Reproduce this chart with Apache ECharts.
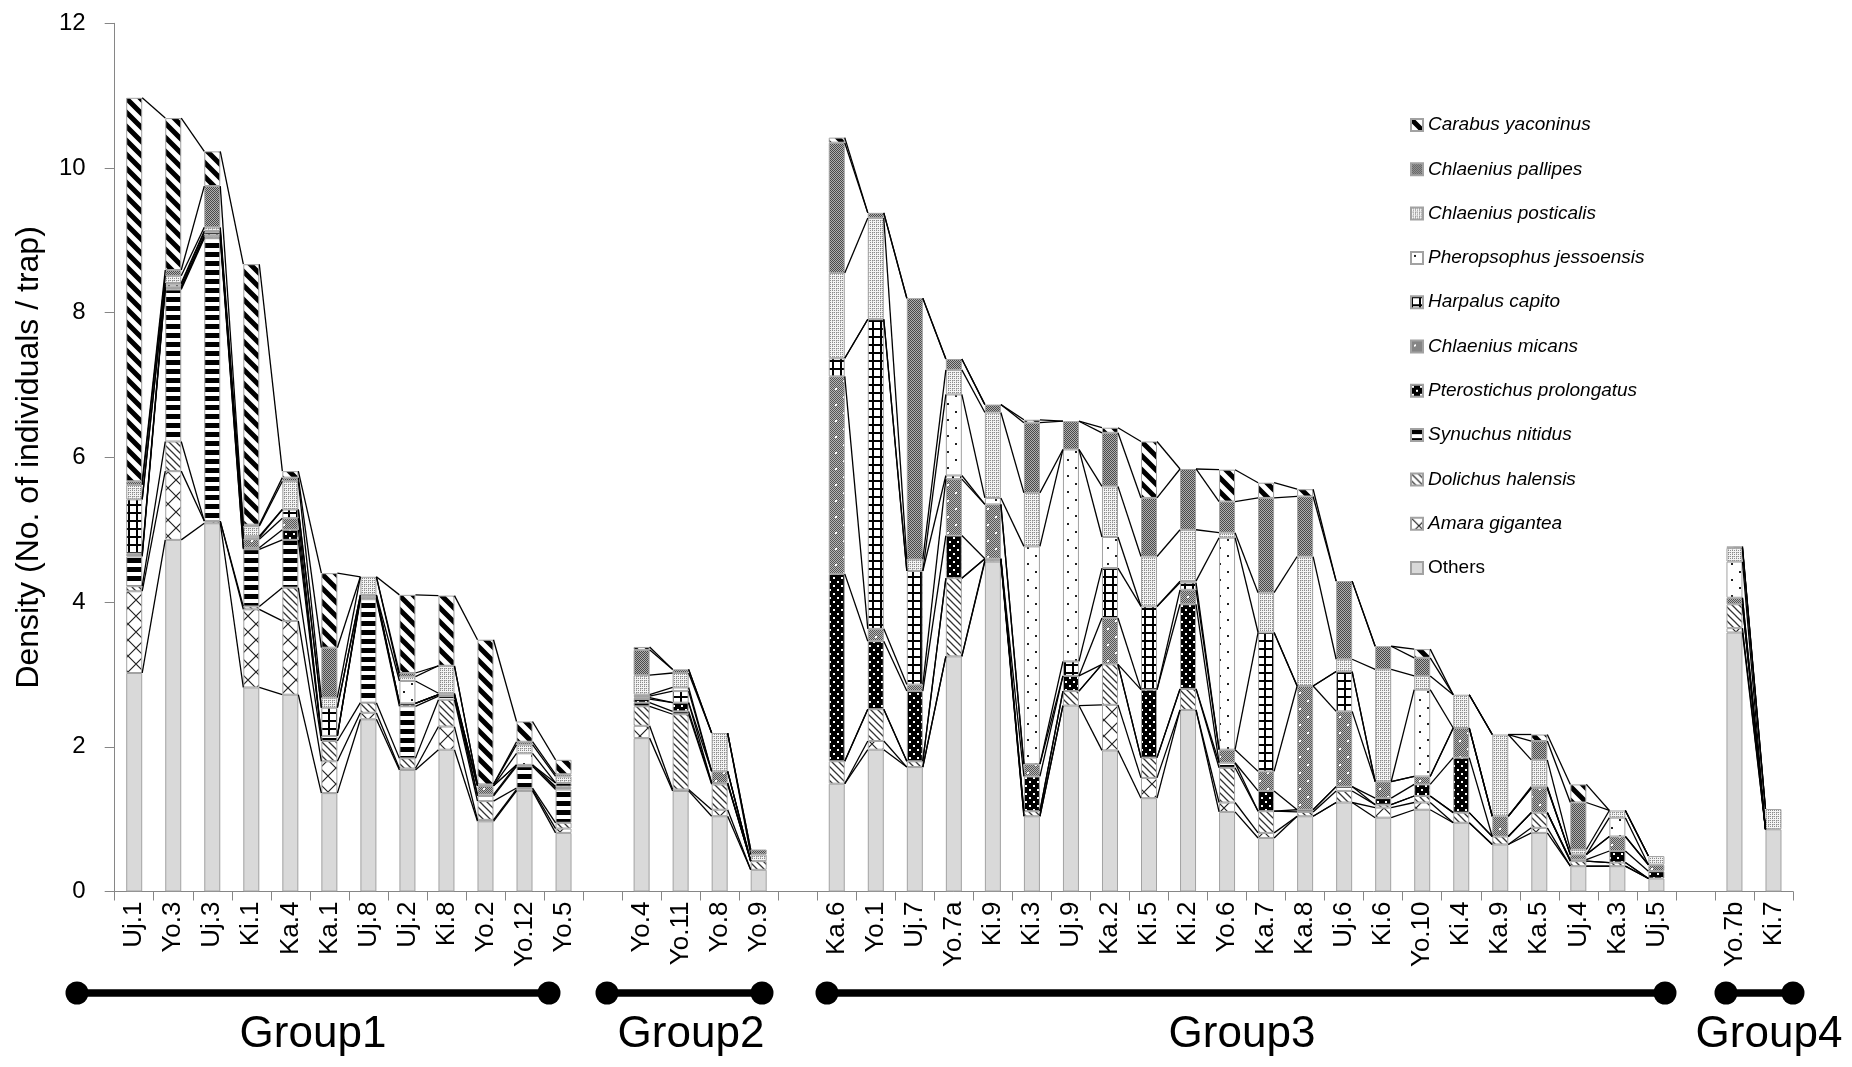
<!DOCTYPE html>
<html><head><meta charset="utf-8">
<script src="https://cdn.jsdelivr.net/npm/echarts@6/dist/echarts.min.js"></script>
<style>html,body{margin:0;padding:0;background:#fff}#c{width:1852px;height:1067px}</style>
</head><body><div id="c"></div>
<script>
// ---------- DATA ----------
const categories = ['Uj.1','Yo.3','Uj.3','Ki.1','Ka.4','Ka.1','Uj.8','Uj.2','Ki.8','Yo.2','Yo.12','Yo.5','',
  'Yo.4','Yo.11','Yo.8','Yo.9','',
  'Ka.6','Yo.1','Uj.7','Yo.7a','Ki.9','Ki.3','Uj.9','Ka.2','Ki.5','Ki.2','Yo.6','Ka.7','Ka.8','Uj.6','Ki.6','Yo.10','Ki.4','Ka.9','Ka.5','Uj.4','Ka.3','Uj.5','',
  'Yo.7b','Ki.7'];

const others = [3.02,4.86,5.09,2.82,2.72,1.36,2.38,1.68,1.96,0.97,1.39,0.81,null,
  2.12,1.39,1.04,0.30,null,
  1.49,1.96,1.72,3.25,4.56,1.04,2.57,1.95,1.29,2.51,1.10,0.74,1.04,1.23,1.02,1.13,0.95,0.65,0.81,0.35,0.35,0.18,null,
  3.58,0.86];
const amaraGigantea = [1.13,0.95,0.03,1.08,1.02,0.44,0.09,0.02,0.32,0.02,0.02,0.06,null,
  0.17,0.02,0.09,0,null,
  0,0.12,0,0,0.02,0,0,0.63,0.28,0,0.13,0.07,0,0,0.14,0.10,0,0,0.07,0,0,0,null,
  0.06,0];
const dolichusHalensis = [0.07,0.41,0,0.04,0.46,0.28,0.14,0.14,0.37,0.26,0.02,0.08,null,
  0.27,1.04,0.35,0.12,null,
  0.31,0.44,0.08,1.08,0.02,0.07,0.20,0.56,0.28,0.29,0.48,0.30,0.06,0.16,0.04,0.09,0.14,0.11,0.21,0.07,0.05,0,null,
  0.33,0];
const synuchusNitidus = [0.41,2.10,3.91,0.79,0.66,0.07,1.43,0.72,0.05,0.07,0.30,0.46,null,
  0.05,0.04,0.02,0,null,
  0,0,0,0,0,0,0,0,0,0,0.07,0,0.03,0.06,0,0,0,0,0,0,0,0,null,
  0,0];
const pterostichusProlongatus = [0.02,0.02,0.02,0.02,0.14,0,0.02,0.04,0.02,0.02,0.02,0.02,null,
  0.05,0.12,0,0,null,
  2.59,0.94,0.97,0.59,0,0.48,0.21,0,0.94,1.17,0,0.28,0,0,0.09,0.16,0.76,0,0,0.02,0.16,0.10,null,
  0,0];
const chlaeniusMicans = [0.02,0.02,0.02,0.12,0.16,0,0.02,0,0,0.12,0,0.02,null,
  0.02,0,0.16,0,null,
  2.73,0.17,0.09,0.78,0.75,0.17,0,0.64,0,0.20,0.18,0.27,1.71,1.04,0.23,0.11,0.41,0.28,0.34,0.07,0.20,0.09,null,
  0.09,0];
const harpalusCapito = [0.75,0.03,0.04,0.02,0.12,0.39,0.02,0,0,0,0,0.05,null,
  0.02,0.16,0,0,null,
  0.25,4.28,1.57,0.05,0,0,0.20,0.69,1.15,0.10,0,1.92,0,0.55,0,0,0,0,0,0,0,0,null,
  0,0];
const pheropsophusJessoensis = [0,0.02,0.02,0.02,0,0,0,0.31,0.02,0,0.16,0,null,
  0.02,0.05,0,0,null,
  0,0,0,1.12,0.09,3.01,2.93,0.43,0,0.02,2.93,0,0,0,0,1.20,0,0,0.02,0,0.26,0,null,
  0.50,0];
const chlaeniusPosticalis = [0.20,0.10,0.05,0.14,0.39,0.14,0.25,0.06,0.38,0.02,0.12,0.09,null,
  0.27,0.20,0.53,0.09,null,
  1.18,1.40,0.16,0.34,1.18,0.74,0,0.70,0.69,0.71,0.07,0.55,1.79,0.17,1.55,0.19,0.46,1.13,0.37,0.07,0.10,0.12,null,
  0.19,0.28];
const chlaeniusPallipes = [0.05,0.08,0.57,0.02,0.05,0.69,0,0.05,0,0,0.04,0.03,null,
  0.35,0.05,0,0.07,null,
  1.80,0.07,3.61,0.15,0.11,0.97,0.39,0.74,0.81,0.84,0.43,1.31,0.83,1.08,0.32,0.25,0,0,0.26,0.65,0,0,null,
  0,0];
const carabusYaconinus = [5.30,2.10,0.48,3.60,0.09,1.03,0,1.08,0.97,2.00,0.28,0.20,null,
  0.04,0,0,0,null,
  0.07,0,0,0,0,0.04,0,0.07,0.78,0,0.44,0.21,0.10,0,0,0.12,0,0,0.09,0.25,0,0,null,
  0.02,0];

const yTicks = {min: 0, max: 12, interval: 2};
const groupLabels = ['Group1','Group2','Group3','Group4'];

// ---------- PATTERNS ----------
function tile(w, h, fn) {
  const c = document.createElement('canvas');
  c.width = w; c.height = h;
  const g = c.getContext('2d');
  fn(g, w, h);
  return {image: c, repeat: 'repeat'};
}
function checker(g, w, h, dark, light) {
  g.fillStyle = light; g.fillRect(0, 0, w, h);
  g.fillStyle = dark;
  for (let y = 0; y < h; y++) for (let x = 0; x < w; x++) if ((x + y) % 2 === 0) g.fillRect(x, y, 1, 1);
}
const fills = {
  others: '#d9d9d9',
  amara: tile(16, 16, (g) => {
    g.fillStyle = '#fff'; g.fillRect(0, 0, 16, 16);
    g.strokeStyle = '#222'; g.lineWidth = 1.2; g.beginPath();
    g.moveTo(-2, -2); g.lineTo(18, 18); g.moveTo(18, -2); g.lineTo(-2, 18); g.stroke();
  }),
  dolichus: tile(7, 7, (g) => {
    g.fillStyle = '#fff'; g.fillRect(0, 0, 7, 7);
    g.strokeStyle = '#333'; g.lineWidth = 1.3; g.beginPath();
    for (const k of [-7, 0, 7]) { g.moveTo(k - 1, -1); g.lineTo(k + 8, 8); }
    g.stroke();
  }),
  synuchus: tile(8, 9, (g) => {
    g.fillStyle = '#fff'; g.fillRect(0, 0, 8, 9);
    g.fillStyle = '#000'; g.fillRect(0, 0, 8, 5);
  }),
  ptero: tile(8, 8, (g) => {
    g.fillStyle = '#000'; g.fillRect(0, 0, 8, 8);
    g.fillStyle = '#fff'; g.fillRect(1, 1, 2, 2); g.fillRect(5, 5, 2, 2);
  }),
  micans: tile(16, 16, (g) => {
    checker(g, 16, 16, '#555', '#b5b5b5');
    g.fillStyle = '#fff'; g.fillRect(3, 4, 2, 2); g.fillRect(11, 12, 2, 2);
  }),
  harpalus: tile(8, 8, (g) => {
    g.fillStyle = '#fff'; g.fillRect(0, 0, 8, 8);
    g.fillStyle = '#000'; g.fillRect(0, 0, 8, 2); g.fillRect(0, 0, 2, 8);
  }),
  phero: tile(16, 16, (g) => {
    g.fillStyle = '#fff'; g.fillRect(0, 0, 16, 16);
    g.fillStyle = '#222'; g.fillRect(3, 3, 2, 2); g.fillRect(11, 11, 2, 2);
  }),
  posticalis: tile(4, 4, (g) => {
    g.fillStyle = '#f4f4f4'; g.fillRect(0, 0, 4, 4);
    g.fillStyle = '#8a8a8a';
    g.fillRect(0, 0, 1, 1); g.fillRect(2, 0, 1, 1); g.fillRect(0, 2, 1, 1); g.fillRect(2, 2, 1, 1);
    g.fillStyle = '#c4c4c4'; g.fillRect(1, 0, 1, 1); g.fillRect(0, 1, 1, 1);
  }),
  pallipes: tile(4, 4, (g) => checker(g, 4, 4, '#4a4a4a', '#b0b0b0')),
  carabus: tile(14, 14, (g) => {
    g.fillStyle = '#fff'; g.fillRect(0, 0, 14, 14);
    g.strokeStyle = '#000'; g.lineWidth = 5; g.beginPath();
    for (const k of [-14, 0, 14]) { g.moveTo(k - 3, -3); g.lineTo(k + 17, 17); }
    g.stroke();
  })
};

// bottom to top
const stackDef = [
  {name: 'Others', data: others, fill: fills.others},
  {name: 'Amara gigantea', data: amaraGigantea, fill: fills.amara},
  {name: 'Dolichus halensis', data: dolichusHalensis, fill: fills.dolichus},
  {name: 'Synuchus nitidus', data: synuchusNitidus, fill: fills.synuchus},
  {name: 'Pterostichus prolongatus', data: pterostichusProlongatus, fill: fills.ptero},
  {name: 'Chlaenius micans', data: chlaeniusMicans, fill: fills.micans},
  {name: 'Harpalus capito', data: harpalusCapito, fill: fills.harpalus},
  {name: 'Pheropsophus jessoensis', data: pheropsophusJessoensis, fill: fills.phero},
  {name: 'Chlaenius posticalis', data: chlaeniusPosticalis, fill: fills.posticalis},
  {name: 'Chlaenius pallipes', data: chlaeniusPallipes, fill: fills.pallipes},
  {name: 'Carabus yaconinus', data: carabusYaconinus, fill: fills.carabus}
];

const BAR_W = 16;
const N = categories.length;

// cumulative tops for series lines
const cum = stackDef.map(() => new Array(N).fill(null));
for (let i = 0; i < N; i++) {
  let s = 0;
  stackDef.forEach((d, k) => {
    if (d.data[i] == null) return;
    s += d.data[i];
    cum[k][i] = s;
  });
}
const pairs = [];
for (let i = 0; i < N - 1; i++) {
  if (categories[i] && categories[i + 1]) pairs.push([i, cum[cum.length - 1][i]]);
}

const FONT = 'Liberation Sans, Arial, sans-serif';

const barSeries = stackDef.map((d) => ({
  name: d.name,
  type: 'bar',
  stack: 'total',
  barWidth: BAR_W,
  data: d.data.map(v => (v === 0 ? null : v)),
  itemStyle: {color: d.fill, borderColor: '#a2a2a2', borderWidth: 1},
  emphasis: {disabled: true},
  silent: true
}));

const lineSeries = {
  type: 'custom',
  name: 'series lines',
  data: pairs,
  encode: {x: 0, y: 1},
  z: 5,
  silent: true,
  renderItem: function (params, api) {
    const i = api.value(0);
    const children = [];
    for (let k = 0; k < cum.length; k++) {
      const a = api.coord([i, cum[k][i]]);
      const b = api.coord([i + 1, cum[k][i + 1]]);
      children.push({
        type: 'line',
        shape: {x1: a[0] + BAR_W / 2, y1: a[1], x2: b[0] - BAR_W / 2, y2: b[1]},
        style: {stroke: '#000', lineWidth: 1.3}
      });
    }
    return {type: 'group', children: children};
  }
};

// group annotation bars
const groupSpans = [[77, 549, 313], [607, 762, 691], [827, 1665, 1242], [1726, 1793, 1769]];
const graphics = [];
groupSpans.forEach((g, idx) => {
  graphics.push({type: 'line', shape: {x1: g[0], y1: 993, x2: g[1], y2: 993}, style: {stroke: '#000', lineWidth: 7.5}, z: 10});
  graphics.push({type: 'circle', shape: {cx: g[0], cy: 993, r: 11.5}, style: {fill: '#000'}, z: 10});
  graphics.push({type: 'circle', shape: {cx: g[1], cy: 993, r: 11.5}, style: {fill: '#000'}, z: 10});
  graphics.push({type: 'text', x: g[2], y: 1035, style: {text: groupLabels[idx], font: '44px ' + FONT, fill: '#000', textAlign: 'center', textVerticalAlign: 'middle'}, z: 10});
});

const legendData = stackDef.slice().reverse().map(d => ({
  name: d.name,
  textStyle: {fontStyle: d.name === 'Others' ? 'normal' : 'italic'}
}));

const chart = echarts.init(document.getElementById('c'), null, {renderer: 'canvas'});
chart.setOption({
  animation: false,
  backgroundColor: '#fff',
  grid: {left: 114.7, right: 59, top: 23.3, bottom: 175.5, containLabel: false},
  legend: {
    data: legendData,
    orient: 'vertical',
    left: 1410,
    top: 115,
    padding: 0,
    itemWidth: 12,
    itemHeight: 12,
    itemGap: 24.3,
    icon: 'rect',
    selectedMode: false,
    textStyle: {fontFamily: FONT, fontSize: 19, lineHeight: 20, color: '#000'}
  },
  xAxis: {
    type: 'category',
    data: categories,
    axisLine: {lineStyle: {color: '#868686', width: 1}},
    axisTick: {show: true, interval: 0, length: 9, lineStyle: {color: '#868686'}},
    axisLabel: {interval: 0, rotate: 90, margin: 10, fontFamily: FONT, fontSize: 26, color: '#000'},
    splitLine: {show: false}
  },
  yAxis: {
    type: 'value',
    min: yTicks.min, max: yTicks.max, interval: yTicks.interval,
    name: 'Density (No. of individuals / trap)',
    nameLocation: 'middle',
    nameRotate: 90,
    nameGap: 70,
    nameTextStyle: {fontFamily: FONT, fontSize: 32, color: '#000'},
    axisLine: {show: true, lineStyle: {color: '#868686', width: 1}},
    axisTick: {show: true, length: 10, lineStyle: {color: '#868686'}},
    axisLabel: {margin: 29, fontFamily: FONT, fontSize: 24, color: '#000'},
    splitLine: {show: false}
  },
  series: barSeries.concat([lineSeries]),
  graphic: graphics
});
</script>
</body></html>
